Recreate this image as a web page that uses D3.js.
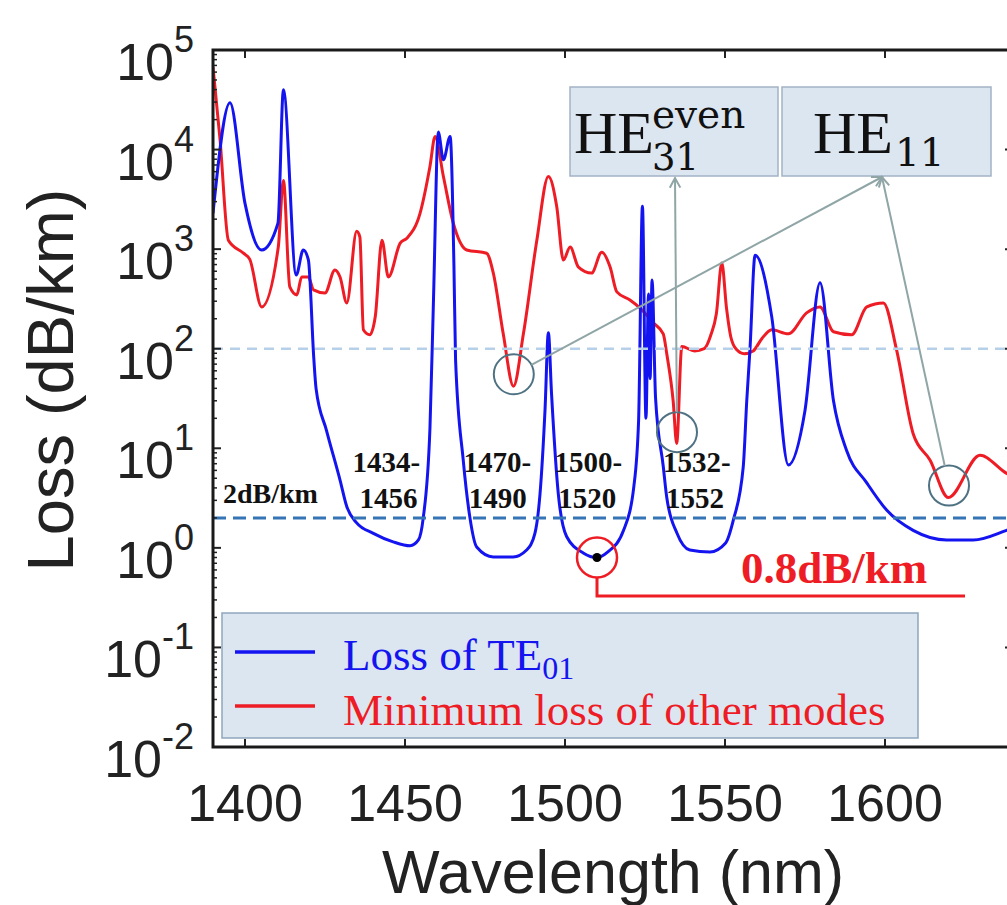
<!DOCTYPE html>
<html>
<head>
<meta charset="utf-8">
<script src="https://cdn.jsdelivr.net/npm/d3@7"></script>
<style>
  html, body { margin: 0; padding: 0; background: #fff; }
  svg { display: block; }
</style>
</head>
<body>
<svg id="chart" width="1007" height="905"></svg>
<script>
// ---------------- DATA ----------------
const xTicks = [1400, 1450, 1500, 1550, 1600];
const yTickExponents = [-2, -1, 0, 1, 2, 3, 4, 5];

const te01Wavelength = [1390, 1395.3, 1400, 1405.2, 1410.3, 1412, 1416, 1418.2, 1419.8, 1421.5, 1422.2,
  1425.5, 1429.7, 1431.8, 1434.9, 1440.1, 1446.3, 1451.6, 1454.2, 1455.7, 1457.8, 1458.9, 1460.4,
  1462, 1464.1, 1465.3, 1465.8, 1468.2, 1470.3, 1472.4, 1477.6, 1483.8, 1488, 1490.6, 1492.2,
  1493.75, 1494.8, 1495.8, 1497.9, 1500.5, 1505.7, 1509.9, 1513.4, 1518.3, 1521.5, 1523, 1524.2,
  1525.3, 1526.1, 1526.6, 1527.2, 1528.3, 1530.7, 1531.8, 1535, 1539, 1545.3, 1550.2, 1552.6,
  1555.7, 1556.8, 1557.8, 1559.4, 1564.6, 1569.8, 1575, 1579.7, 1583.9, 1588, 1594.3, 1600.5,
  1608.8, 1619.3, 1627.6, 1638, 1640];
const te01Loss = [2290, 29500, 2880, 980, 1820, 39800, 550, 980, 780, 80, 40,
  15, 4.8, 2.6, 1.78, 1.4, 1.15, 1.05, 1.2, 2.0, 16, 310, 15000,
  7900, 13500, 660, 78, 7.6, 2.0, 1.02, 0.81, 0.81, 0.95, 1.4, 3.5,
  24, 145, 35, 3.5, 1.3, 0.89, 0.8, 0.91, 1.5, 4.1, 19, 2700,
  20, 355, 50, 490, 32, 6.6, 3.2, 1.4, 0.95, 0.91, 1.12, 1.9,
  6.5, 30, 98, 870, 210, 6.8, 24, 460, 30, 9.5, 4.5, 2.4,
  1.5, 1.2, 1.2, 1.5, 1.58];

const otherWavelength = [1390, 1392.2, 1394.8, 1399.5, 1401.5, 1405.2, 1410.4, 1412, 1414, 1416.2,
  1417.7, 1419.8, 1421.4, 1425, 1428.1, 1429.7, 1431.8, 1434.9, 1435.9, 1437, 1439, 1440.7,
  1442.8, 1444.8, 1448.5, 1450.6, 1454.7, 1457.8, 1459.4, 1462, 1465.1, 1469.3, 1475.5, 1477.6,
  1480.7, 1483.9, 1487, 1491.2, 1494.8, 1497.4, 1499.5, 1501.6, 1504.2, 1508.3, 1511.5, 1514.1,
  1516.2, 1520.3, 1523.4, 1527.6, 1530.7, 1531.8, 1533.8, 1534.9, 1536.5, 1540.5, 1543.5, 1545.5,
  1547.3, 1549, 1550.5, 1551.8, 1553.6, 1556, 1558.8, 1561.5, 1564.6, 1569.8, 1575.5, 1579.7,
  1583.9, 1589.6, 1594.3, 1599.5, 1603.6, 1608.8, 1614.1, 1619.8, 1629.7, 1638, 1640];
const otherLoss = [67600, 12600, 1230, 910, 790, 263, 1050, 4900, 417, 347,
  525, 525, 390, 363, 617, 525, 288, 1510, 1320, 155, 138, 209,
  1230, 525, 1150, 1290, 2290, 6760, 13500, 5370, 1820, 980, 910, 575,
  141, 42, 141, 1230, 5370, 2690, 776, 1050, 660, 575, 933, 660,
  372, 309, 257, 182, 141, 89, 30, 11.2, 105, 95, 100, 135,
  224, 724, 251, 132, 98, 89, 95, 126, 155, 141, 229, 263,
  148, 138, 263, 288, 98, 14, 7.6, 3.2, 8.5, 5.6, 5.2];

const refLevelHigh = 100;      // light dashed line
const refLevelLow = 2;         // 2 dB/km line
const bestPoint = {wl: 1510, loss: 0.8};
const bandLabels = [
  {top: "1434-", bottom: "1456", xTop: 1433.6, xBottom: 1435.8},
  {top: "1470-", bottom: "1490", xTop: 1468.3, xBottom: 1469.9},
  {top: "1500-", bottom: "1520", xTop: 1496.7, xBottom: 1497.9},
  {top: "1532-", bottom: "1552", xTop: 1530.6, xBottom: 1531.6}
];
const markedMinima = [
  {wl: 1484, loss: 42, target: "he11"},
  {wl: 1535, loss: 11, target: "he31"},
  {wl: 1620, loss: 3.2, target: "he11"}
];

(function draw() {
// ---------------- SCALES ----------------
const svg = d3.select("#chart");
const pL = 213, pR = 1013, pT = 50, pB = 747;
const x = d3.scaleLinear().domain([1390, 1640]).range([pL, pR]);
const y = d3.scaleLog().domain([1e-2, 1e5]).range([pB, pT]);

const blue = "#1414f0", red = "#ee1c24";

svg.append("defs").append("clipPath").attr("id", "plotclip")
  .append("rect").attr("x", pL).attr("y", pT).attr("width", pR - pL).attr("height", pB - pT);

// ---------------- CURVES ----------------
const line = d3.line().x(d => x(d[0])).y(d => y(d[1])).curve(d3.curveMonotoneX);
const plot = svg.append("g").attr("clip-path", "url(#plotclip)");

plot.append("path")
  .datum(otherWavelength.map((w, i) => [w, otherLoss[i]]))
  .attr("d", line).attr("fill", "none").attr("stroke", red).attr("stroke-width", 3)
  .attr("stroke-linejoin", "round");

plot.append("path")
  .datum(te01Wavelength.map((w, i) => [w, te01Loss[i]]))
  .attr("d", line).attr("fill", "none").attr("stroke", blue).attr("stroke-width", 3)
  .attr("stroke-linejoin", "round");

plot.append("line").attr("x1", pL).attr("x2", pR)
  .attr("y1", y(refLevelHigh)).attr("y2", y(refLevelHigh))
  .attr("stroke", "#b7d0ea").attr("stroke-width", 2.5).attr("stroke-dasharray", "10,7");
plot.append("line").attr("x1", pL).attr("x2", pR)
  .attr("y1", y(refLevelLow)).attr("y2", y(refLevelLow))
  .attr("stroke", "#3575b5").attr("stroke-width", 3).attr("stroke-dasharray", "13,7");

// ---------------- AXES ----------------
const axisG = svg.append("g");
const majorVals = yTickExponents.map(e => Math.pow(10, e));
const minorVals = [];
yTickExponents.slice(0, -1).forEach(e => { for (let k = 2; k <= 9; k++) minorVals.push(k * Math.pow(10, e)); });

[[pL, 1], [pR, -1]].forEach(([xx, dir]) => {
  majorVals.forEach(v => axisG.append("line").attr("x1", xx).attr("x2", xx + dir * 8)
    .attr("y1", y(v)).attr("y2", y(v)).attr("stroke", "#222").attr("stroke-width", 2));
  minorVals.forEach(v => axisG.append("line").attr("x1", xx).attr("x2", xx + dir * 4)
    .attr("y1", y(v)).attr("y2", y(v)).attr("stroke", "#222").attr("stroke-width", 1.5));
});
[[pB, -1], [pT, 1]].forEach(([yy, dir]) => {
  xTicks.forEach(v => axisG.append("line").attr("x1", x(v)).attr("x2", x(v))
    .attr("y1", yy).attr("y2", yy + dir * 8).attr("stroke", "#222").attr("stroke-width", 2));
});
axisG.append("rect").attr("x", pL).attr("y", pT).attr("width", pR - pL).attr("height", pB - pT)
  .attr("fill", "none").attr("stroke", "#1a1a1a").attr("stroke-width", 3);

xTicks.forEach(v => svg.append("text").attr("x", x(v)).attr("y", 821)
  .attr("text-anchor", "middle").attr("font-family", "Liberation Sans, Arial, sans-serif")
  .attr("font-size", 52).attr("fill", "#222").text(v));

yTickExponents.forEach(e => {
  const t = svg.append("text").attr("x", 194).attr("y", y(Math.pow(10, e)) + 30)
    .attr("text-anchor", "end").attr("font-family", "Liberation Sans, Arial, sans-serif")
    .attr("fill", "#222");
  t.append("tspan").attr("font-size", 52).text("10");
  t.append("tspan").attr("font-size", 36).attr("dy", -28).text(String(e));
});

svg.append("text").attr("x", 613).attr("y", 893).attr("text-anchor", "middle")
  .attr("font-family", "Liberation Sans, Arial, sans-serif").attr("font-size", 61).attr("fill", "#222")
  .text("Wavelength (nm)");
svg.append("text").attr("transform", "translate(73,380) rotate(-90)").attr("text-anchor", "middle")
  .attr("font-family", "Liberation Sans, Arial, sans-serif").attr("font-size", 65).attr("fill", "#222")
  .text("Loss (dB/km)");

// ---------------- ANNOTATIONS ----------------
const serif = "Liberation Serif, Times New Roman, serif";
svg.append("text").attr("x", 223).attr("y", 503).attr("font-family", serif).attr("font-weight", "bold")
  .attr("font-size", 28).attr("fill", "#111").text("2dB/km");
bandLabels.forEach(b => {
  svg.append("text").attr("x", x(b.xTop)).attr("y", 472).attr("font-family", serif).attr("font-weight", "bold")
    .attr("font-size", 29).attr("fill", "#111").text(b.top);
  svg.append("text").attr("x", x(b.xBottom)).attr("y", 508).attr("font-family", serif).attr("font-weight", "bold")
    .attr("font-size", 29).attr("fill", "#111").text(b.bottom);
});

const bx = x(bestPoint.wl), by = y(bestPoint.loss);
svg.append("circle").attr("cx", bx).attr("cy", by).attr("r", 20).attr("fill", "none")
  .attr("stroke", red).attr("stroke-width", 2.5);
svg.append("circle").attr("cx", bx).attr("cy", by).attr("r", 4.5).attr("fill", "#000");
svg.append("path").attr("d", `M${bx},${by + 20} V596 H965`).attr("fill", "none")
  .attr("stroke", red).attr("stroke-width", 3);
svg.append("text").attr("x", 741).attr("y", 583).attr("font-family", serif).attr("font-weight", "bold")
  .attr("font-size", 45).attr("fill", red).text("0.8dB/km");

const boxFill = "#dce6f1", boxStroke = "#a3b3c4";
svg.append("rect").attr("x", 570).attr("y", 87).attr("width", 208).attr("height", 89)
  .attr("fill", boxFill).attr("stroke", boxStroke).attr("stroke-width", 1.5);
svg.append("rect").attr("x", 782).attr("y", 87).attr("width", 209).attr("height", 89)
  .attr("fill", boxFill).attr("stroke", boxStroke).attr("stroke-width", 1.5);
svg.append("text").attr("x", 574).attr("y", 153).attr("fill", "#111")
  .attr("font-family", serif).attr("font-size", 60).text("HE");
svg.append("text").attr("x", 652).attr("y", 128).attr("fill", "#111")
  .attr("font-family", "DejaVu Serif, serif").attr("font-size", 39).text("even");
svg.append("text").attr("x", 652).attr("y", 170).attr("fill", "#111")
  .attr("font-family", "DejaVu Serif, serif").attr("font-size", 37).text("31");
svg.append("text").attr("x", 813).attr("y", 153).attr("fill", "#111")
  .attr("font-family", serif).attr("font-size", 60).text("HE");
svg.append("text").attr("x", 895).attr("y", 166).attr("fill", "#111")
  .attr("font-family", "DejaVu Serif, serif").attr("font-size", 39).text("11");

const targets = {he31: [675, 178], he11: [882, 177]};
const arrowColor = "#8fa5a6", circleColor = "#4f7283";
function arrow(x1, y1, x2, y2) {
  svg.append("line").attr("x1", x1).attr("y1", y1).attr("x2", x2).attr("y2", y2)
    .attr("stroke", arrowColor).attr("stroke-width", 2);
  const ang = Math.atan2(y2 - y1, x2 - x1), L = 11, sp = 0.5;
  const p1 = [x2 - L * Math.cos(ang - sp), y2 - L * Math.sin(ang - sp)];
  const p2 = [x2 - L * Math.cos(ang + sp), y2 - L * Math.sin(ang + sp)];
  svg.append("path").attr("d", `M${p1[0]},${p1[1]} L${x2},${y2} L${p2[0]},${p2[1]}`)
    .attr("fill", "none").attr("stroke", arrowColor).attr("stroke-width", 2);
}
markedMinima.forEach(m => {
  const cx = x(m.wl), cy = y(m.loss) - 12, r = 20;
  svg.append("circle").attr("cx", cx).attr("cy", cy).attr("r", r).attr("fill", "none")
    .attr("stroke", circleColor).attr("stroke-width", 2);
  const [tx, ty] = targets[m.target];
  const ang = Math.atan2(ty - cy, tx - cx);
  arrow(cx + r * Math.cos(ang), cy + r * Math.sin(ang), tx, ty);
});

svg.append("rect").attr("x", 222).attr("y", 613).attr("width", 696).attr("height", 125)
  .attr("fill", boxFill).attr("stroke", "#8fa6bd").attr("stroke-width", 1.5);
svg.append("line").attr("x1", 235).attr("x2", 315).attr("y1", 652).attr("y2", 652)
  .attr("stroke", blue).attr("stroke-width", 3.5);
svg.append("line").attr("x1", 235).attr("x2", 315).attr("y1", 706).attr("y2", 706)
  .attr("stroke", red).attr("stroke-width", 3.5);
const lg1 = svg.append("text").attr("x", 343).attr("y", 670).attr("font-family", serif)
  .attr("font-size", 45).attr("fill", blue);
lg1.append("tspan").text("Loss of TE");
lg1.append("tspan").attr("font-size", 32).attr("dy", 9).text("01");
svg.append("text").attr("x", 343).attr("y", 725).attr("font-family", serif)
  .attr("font-size", 45).attr("fill", red).text("Minimum loss of other modes");
})();
</script>
</body>
</html>
